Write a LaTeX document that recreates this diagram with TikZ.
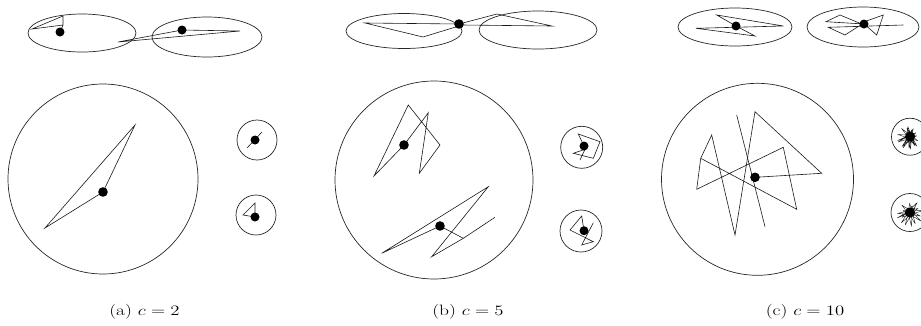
\documentclass[tikz,border=0pt]{standalone}
\tikzset{
  ring/.style={draw=black!85, line width=0.7pt},
  walk/.style={draw=black!90, line width=0.6pt, line join=miter},
  knot/.style={draw=black!90, line width=0.4pt, line join=round},
  hub/.style={fill=black},
  captext/.style={font=\fontsize{15}{18}\selectfont, inner sep=0pt}
}
\newcommand{\wide}[1]{\scalebox{1.3}[1]{#1}}
\begin{document}
\begin{tikzpicture}[x=1pt,y=-1pt]
\useasboundingbox (0,0) rectangle (921,325);
% ---------------- panel (a) ----------------
\draw[ring] (82,33) ellipse [x radius=54, y radius=19];
\draw[ring] (207,37) ellipse [x radius=55, y radius=20];
\draw[walk] (60,32) -- (63,25) -- (63,16) -- (32,29) -- (63,25);
\draw[walk] (182,30) -- (118,42) -- (240,31) -- (182,30);
\fill[hub] (60,32) circle (4.5);
\fill[hub] (182,30) circle (4.5);
\draw[ring] (103,179) circle (95);
\draw[walk] (103,192) -- (135,125) -- (45,228) -- cycle;
\fill[hub] (103,192) circle (4.8);
\draw[ring] (257,140) circle (20);
\draw[walk] (247,148) -- (262,132);
\fill[hub] (255,140) circle (4.5);
\draw[ring] (256,215) circle (20);
\draw[walk] (255,217) -- (243,215) -- (255,203) -- (255,217);
\fill[hub] (255,217) circle (4.5);
\node[captext] (la) at (144.5,312) {\wide{(a) $c=2$}};
% ---------------- panel (b) ----------------
\draw[ring] (404,31) ellipse [x radius=58, y radius=17.5];
\draw[ring] (538,30) ellipse [x radius=59, y radius=19];
\draw[walk] (459,24) -- (365,23) -- (423,37) -- (459,26);
\draw[walk] (459,24) -- (497,14) -- (552,26) -- (462,25);
\fill[hub] (459,24) circle (4.8);
\draw[ring] (434,180) circle (99);
\draw[walk] (404,145) -- (374,176) -- (408.3,105) -- (440,145) -- (419.3,173.3) -- (428.3,112.7) -- cycle;
\fill[hub] (404,145) circle (4.8);
\draw[walk] (440,226) -- (381.7,253.3) -- (488.3,186.7) -- (431.7,256.7) -- (463.3,238.3) -- (495,217.3);
\draw[walk] (440,226) -- (463.3,238.3);
\fill[hub] (440,226) circle (4.8);
\draw[ring] (581.7,147.3) circle (21);
\draw[walk] (584,146) -- (578.3,134) -- (600,141.7) -- (593.3,158.3) -- (573.3,153.3) -- (585,149.3) -- (580,160);
\fill[hub] (584,146) circle (4.5);
\draw[ring] (581,231) circle (21);
\draw[walk] (584,230.7) -- (581.7,216) -- (570,230) -- (593.3,241.7) -- (581.7,245) -- (593.3,222.7);
\fill[hub] (584,230.7) circle (4.5);
\node[captext] (lb) at (468,312) {\wide{(b) $c=5$}};
% ---------------- panel (c) ----------------
\draw[ring] (735,27) ellipse [x radius=57, y radius=19];
\draw[ring] (863,27) ellipse [x radius=56, y radius=20];
\draw[walk] (736,26) -- (716.7,15) -- (783.3,26) -- (696,28.3) -- (755,36) -- (736,26);
\draw[walk] (864,24) -- (826,21.7) -- (840,15) -- (860,23.3) -- (883.3,15) -- (876.7,35) -- (863.3,23.3) -- (845,35) -- (828.3,27.3) -- (903.3,25);
\fill[hub] (736,26) circle (4.5);
\fill[hub] (864,24) circle (4.5);
\draw[ring] (757.5,179.3) circle (96);
\draw[walk] (696.7,189.3) -- (783.3,147.3) -- (796.7,209.3) -- (700.7,158.3) -- (711.7,135) -- (735,235) -- (755,111.7) -- (821.7,173.3) -- (755,177.3);
\draw[walk] (696.7,189.3) -- (700.7,158.3);
\draw[walk] (736.7,115) -- (765,226.7);
\fill[hub] (755,177.3) circle (4.8);
\draw[ring] (910,136.7) circle (18.5);
\begin{scope}[shift={(910,136.7)}]
\draw[knot] (0,0) \foreach \i in {1,...,18} { -- (\i*163:{5+8*abs(sin(\i*97))}) -- (\i*163+25:3) };
\end{scope}
\fill[hub] (910,136.7) circle (5);
\draw[ring] (910,212.5) circle (19);
\begin{scope}[shift={(910,212.5)}]
\draw[knot] (0,0) \foreach \i in {1,...,18} { -- (\i*157:{5+9*abs(sin(\i*83))}) -- (\i*157+30:3) };
\end{scope}
\fill[hub] (910,212.5) circle (5);
\node[captext] (lc) at (805,312) {\wide{(c) $c=10$}};
\end{tikzpicture}
\end{document}
